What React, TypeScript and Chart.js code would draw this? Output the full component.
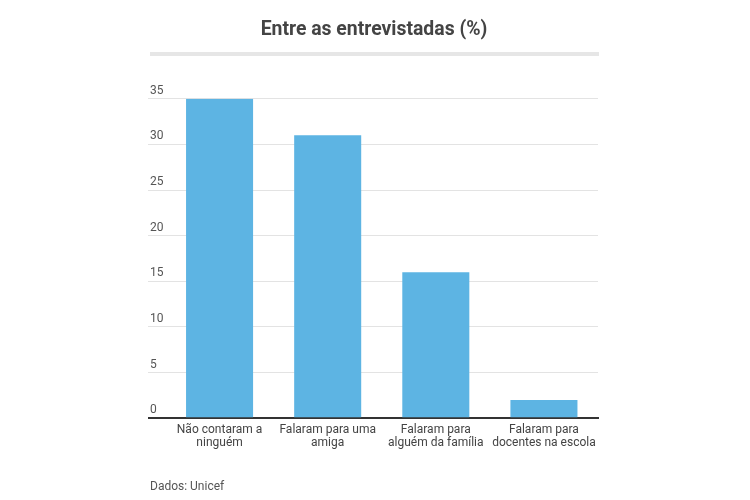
import React, { useEffect, useRef } from "react";
import { Chart, registerables } from "chart.js";

Chart.register(...registerables);

const categories: string[][] = [
  ["Não contaram a", "ninguém"],
  ["Falaram para uma", "amiga"],
  ["Falaram para", "alguém da família"],
  ["Falaram para", "docentes na escola"],
];
const values: number[] = [35, 31, 16, 2];
const yTicks: number[] = [0, 5, 10, 15, 20, 25, 30, 35];
const titleText = "Entre as entrevistadas (%)";
const sourceText = "Dados: Unicef";

const FONT = "Roboto, 'Noto Sans', Arial, sans-serif";

const titleRulePlugin = {
  id: "titleRule",
  beforeDraw(chart: any) {
    const { ctx, chartArea } = chart;
    const tb = chart.titleBlock;
    if (!tb) return;
    const left = chart.scales.y.left;
    const y = tb.top + 52;
    ctx.save();
    ctx.fillStyle = "#e6e6e6";
    ctx.fillRect(left, y, chartArea.right - left + 1, 4);
    ctx.restore();
  },
};

export default function App() {
  const ref = useRef<HTMLCanvasElement | null>(null);
  useEffect(() => {
    if (!ref.current) return;
    const chart = new Chart(ref.current, {
      type: "bar",
      data: {
        labels: categories,
        datasets: [
          {
            data: values,
            backgroundColor: "#5db4e3",
            barPercentage: 0.62,
            categoryPercentage: 1,
          },
        ],
      },
      plugins: [titleRulePlugin],
      options: {
        animation: false,
        responsive: true,
        maintainAspectRatio: false,
        layout: { padding: { left: 150, right: 152, top: 0, bottom: 0 } },
        plugins: {
          legend: { display: false },
          tooltip: { enabled: false },
          title: {
            display: true,
            text: titleText,
            color: "#444",
            font: { family: FONT, size: 19.4, weight: "bold", lineHeight: 1.2 },
            padding: { top: 19, bottom: 56.4 },
          },
          subtitle: {
            display: true,
            text: sourceText,
            position: "bottom",
            align: "start",
            color: "#555",
            font: { family: FONT, size: 12, lineHeight: 1.2 },
            padding: { top: 25.5, bottom: 5.8 },
          },
        },
        scales: {
          x: {
            z: 1,
            grid: { display: false, drawTicks: false },
            border: { display: true, color: "#333", width: 2 },
            ticks: {
              color: "#444",
              font: { family: FONT, size: 12, lineHeight: 13 / 12 },
              padding: 5,
              maxRotation: 0,
              autoSkip: false,
            },
          },
          y: {
            min: 0,
            max: 35,
            afterBuildTicks(scale: any) {
              scale.ticks = yTicks.map((v) => ({ value: v }));
            },
            afterFit(scale: any) {
              scale.width = 15.5;
            },
            border: { display: false },
            grid: {
              color: (c: any) => (c.tick && c.tick.value === 0 ? "#333" : "#e3e3e3"),
              lineWidth: (c: any) => (c.tick && c.tick.value === 0 ? 2 : 1),
              drawTicks: true,
              tickLength: 17.5,
            },
            ticks: {
              color: "#555",
              font: { family: FONT, size: 12 },
              crossAlign: "far",
              padding: 0,
              labelOffset: -8,
            },
          },
        },
      } as any,
    });
    return () => chart.destroy();
  }, []);
  return (
    <div style={{ position: "absolute", left: 0, top: 0, width: 750, height: 500 }}>
      <canvas ref={ref} />
    </div>
  );
}
